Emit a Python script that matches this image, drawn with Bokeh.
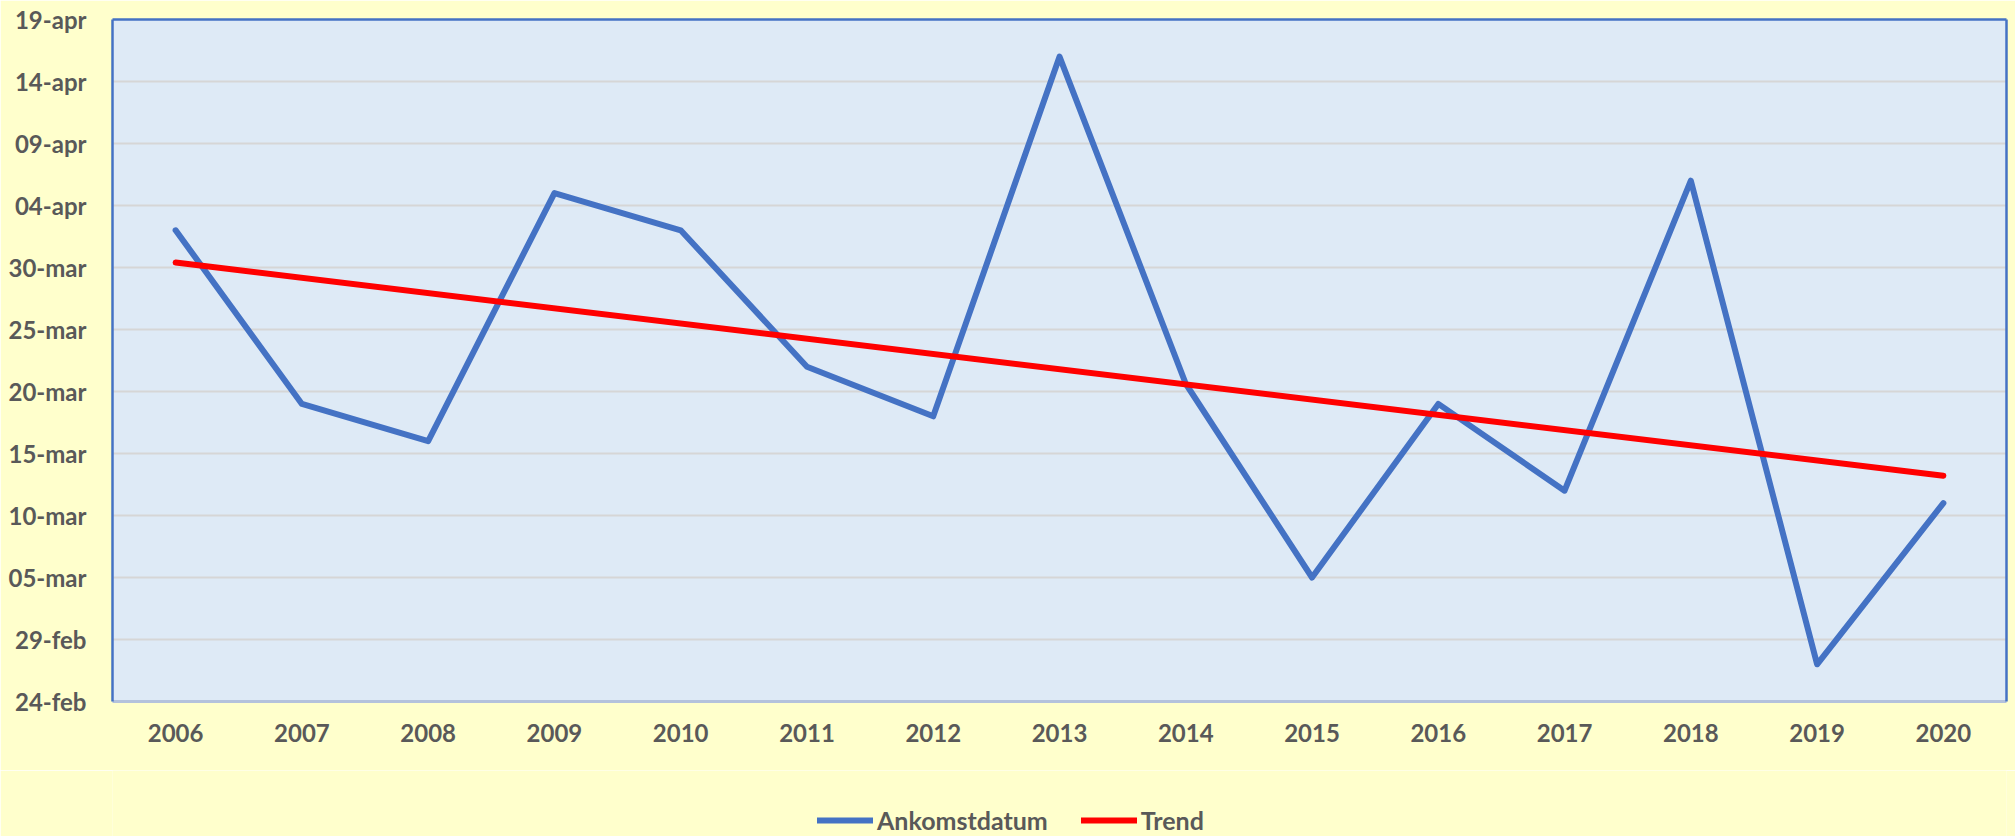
import pandas as pd
from bokeh.plotting import figure
from bokeh.layouts import column
from bokeh.models import (FixedTicker, LinearAxis, Legend, LegendItem, Range1d)
from bokeh.embed import file_html
from bokeh.resources import INLINE

# ---------------- data ----------------
years = [2006, 2007, 2008, 2009, 2010, 2011, 2012, 2013,
         2014, 2015, 2016, 2017, 2018, 2019, 2020]
# arrival dates (leap-year calendar, as the axis shows 29-feb)
arrival = ["2020-04-02", "2020-03-19", "2020-03-16", "2020-04-05",
           "2020-04-02", "2020-03-22", "2020-03-18", "2020-04-16",
           "2020-03-20T15:00", "2020-03-05", "2020-03-19", "2020-03-12",
           "2020-04-06", "2020-02-27", "2020-03-11"]
# linear trend end points as drawn
trend_years = [2006, 2020]
trend_dates = ["2020-03-30T09:30", "2020-03-13T05:00"]

axis_start = "2020-02-24"
tick_days = [0, 5, 10, 15, 20, 25, 30, 35, 40, 45, 50, 55]
tick_labels = ["24-feb", "29-feb", "05-mar", "10-mar", "15-mar", "20-mar",
               "25-mar", "30-mar", "04-apr", "09-apr", "14-apr", "19-apr"]
year_labels = [str(y) for y in years]

series_name = "Ankomstdatum"
trend_name = "Trend"

# ---------------- convert to day numbers ----------------
base = pd.Timestamp(axis_start)
def to_days(lst):
    return [(pd.Timestamp(s) - base) / pd.Timedelta(days=1) for s in lst]

arr_days = to_days(arrival)
trend_days = to_days(trend_dates)

# ---------------- style ----------------
BG = "#FFFFCC"
PLOT_BG = "#DEEAF6"
BLUE = "#4472C4"
RED = "#FF0000"
TXT = "#595959"
FONT = "Lato"
FS = "24px"
LW = 6

W = 2015
H_MAIN = 770
H_LEG = 66
LEFT = 112

main = figure(width=W, height=H_MAIN, output_backend="svg", toolbar_location=None,
              x_range=Range1d(2005.5, 2020.5), y_range=Range1d(0, 55),
              x_axis_location=None, y_axis_location=None,
              min_border_left=LEFT, min_border_top=19, min_border_right=9,
              min_border_bottom=H_MAIN - 701)
main.background_fill_color = PLOT_BG
main.border_fill_color = BG
main.outline_line_color = None

# axes
xaxis = LinearAxis(ticker=FixedTicker(ticks=years))
xaxis.major_label_overrides = {y: l for y, l in zip(years, year_labels)}
xaxis.axis_line_color = "#B4C2DC"
xaxis.axis_line_width = 3
xaxis.major_tick_line_color = None
xaxis.minor_tick_line_color = None
xaxis.major_tick_out = 0
xaxis.minor_tick_out = 0
xaxis.major_label_standoff = 22
xaxis.major_label_text_font = FONT
xaxis.major_label_text_font_style = "bold"
xaxis.major_label_text_font_size = FS
xaxis.major_label_text_color = TXT
main.add_layout(xaxis, "below")

yaxis = LinearAxis(ticker=FixedTicker(ticks=tick_days))
yaxis.major_label_overrides = {d: l for d, l in zip(tick_days, tick_labels)}
yaxis.axis_line_color = BLUE
yaxis.axis_line_width = 2.5
yaxis.major_tick_line_color = None
yaxis.minor_tick_line_color = None
yaxis.major_tick_out = 0
yaxis.minor_tick_out = 0
yaxis.major_label_standoff = 26
yaxis.major_label_text_font = FONT
yaxis.major_label_text_font_style = "bold"
yaxis.major_label_text_font_size = FS
yaxis.major_label_text_color = TXT
main.add_layout(yaxis, "left")

for loc in ("above", "right"):
    ax = LinearAxis(ticker=FixedTicker(ticks=[]))
    ax.axis_line_color = BLUE
    ax.axis_line_width = 2.5
    ax.major_tick_line_color = None
    ax.minor_tick_line_color = None
    ax.major_tick_out = 0
    ax.minor_tick_out = 0
    ax.major_label_standoff = 0
    ax.major_label_text_font_size = "0px"
    main.add_layout(ax, loc)

# grid
main.xgrid.grid_line_color = None
main.ygrid.ticker = FixedTicker(ticks=tick_days)
main.ygrid.grid_line_color = "#D6D6D6"
main.ygrid.grid_line_width = 2

# lines
main.line(years, arr_days, line_color=BLUE, line_width=LW,
          line_cap="round", line_join="round")
main.line(trend_years, trend_days, line_color=RED, line_width=LW,
          line_cap="round", line_join="round")

# ---------------- legend strip below the chart ----------------
leg = figure(width=W, height=H_LEG, output_backend="svg", toolbar_location=None,
             x_axis_location=None, y_axis_location=None,
             min_border_left=LEFT, min_border_right=9, min_border_top=0,
             min_border_bottom=0)
leg.background_fill_color = BG
leg.border_fill_color = BG
leg.outline_line_color = None
leg.grid.grid_line_color = None
# legend-only renderers (a single NaN point: nothing is drawn, only the
# line style is shown in the legend)
nan = float("nan")
lb = leg.line(x=[nan], y=[nan], line_color=BLUE, line_width=LW, line_cap="round")
lr = leg.line(x=[nan], y=[nan], line_color=RED, line_width=LW, line_cap="round")

legend = Legend(items=[LegendItem(label=series_name, renderers=[lb]),
                       LegendItem(label=trend_name, renderers=[lr])],
                orientation="horizontal", location=(817 - LEFT, 1))
legend.background_fill_alpha = 0
legend.border_line_color = None
legend.padding = 0
legend.margin = 0
legend.spacing = 33
legend.glyph_width = 56
legend.glyph_height = 30
legend.label_height = 30
legend.label_standoff = 4
legend.label_text_font = FONT
legend.label_text_font_style = "bold"
legend.label_text_font_size = "25px"
legend.label_text_color = TXT
leg.add_layout(legend)

p = column(main, leg, spacing=0)
open("out.html", "w").write(file_html(p, INLINE))
